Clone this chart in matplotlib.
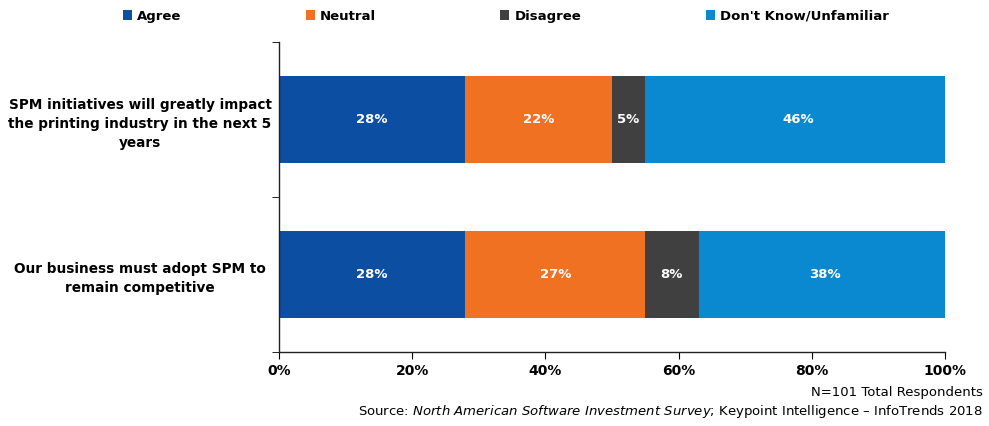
import matplotlib.pyplot as plt
import numpy as np
from matplotlib.patches import Patch
from matplotlib.ticker import PercentFormatter

categories = [
    "SPM initiatives will greatly impact\nthe printing industry in the next 5\nyears",
    "Our business must adopt SPM to\nremain competitive",
]
series = ["Agree", "Neutral", "Disagree", "Don't Know/Unfamiliar"]
values = [
    [28, 28],  # Agree
    [22, 27],  # Neutral
    [5, 8],    # Disagree
    [46, 38],  # Don't Know/Unfamiliar
]
colors = ["#0B4EA2", "#F07122", "#404040", "#0A89D0"]

plt.rcParams["font.family"] = ["DejaVu Sans"]

fig = plt.figure(figsize=(9.89, 4.26), dpi=100)
ax = fig.add_axes([0.282, 0.174, 0.6735, 0.727])

y = np.arange(len(categories))
left = np.zeros(len(categories))
for name, vals, col in zip(series, values, colors):
    vals = np.array(vals, dtype=float)
    ax.barh(y, vals, left=left, height=0.56, color=col, label=name)
    for yi, l, v in zip(y, left, vals):
        ax.text(l + v / 2, yi, f"{v:.0f}%", ha="center", va="center",
                color="white", fontsize=9.5, fontweight="bold")
    left += vals

ax.set_xlim(0, 100)
ax.set_ylim(len(categories) - 0.5, -0.5)
ax.xaxis.set_major_formatter(PercentFormatter(decimals=0))
ax.set_xticks(np.arange(0, 101, 20))
ax.set_yticks(y)
ax.set_yticklabels(categories, fontsize=9.8, fontweight="bold", ha="center",
                   multialignment="center", linespacing=1.45)
ax.tick_params(axis="y", length=0, pad=100)
ax.set_yticks([-0.5, 0.5, 1.5], minor=True)
ax.tick_params(axis="y", which="minor", length=5, direction="out")
ax.tick_params(axis="x", length=5, direction="out", pad=4)
for lab in ax.get_xticklabels():
    lab.set_fontweight("bold")
    lab.set_fontsize(10)

for s in ["top", "right"]:
    ax.spines[s].set_visible(False)
for s in ["left", "bottom"]:
    ax.spines[s].set_color("#222222")
    ax.spines[s].set_linewidth(1)

handles = [Patch(facecolor=c, label=n) for n, c in zip(series, colors)]
fig.legend(handles=handles, loc="center left", bbox_to_anchor=(0.124, 0.962), ncol=4,
           frameon=False, handlelength=0.7, handleheight=0.7, handletextpad=0.4,
           borderpad=0, borderaxespad=0,
           columnspacing=9.4, prop={"weight": "bold", "size": 9.5})

fig.text(0.994, 0.078, "N=101 Total Respondents", ha="right", va="center", fontsize=9.5)
fig.text(0.994, 0.035,
         "Source: $\\it{North\\ American\\ Software\\ Investment\\ Survey}$; Keypoint Intelligence \u2013 InfoTrends 2018",
         ha="right", va="center", fontsize=9.5)

fig.savefig("out.png", dpi=100)
